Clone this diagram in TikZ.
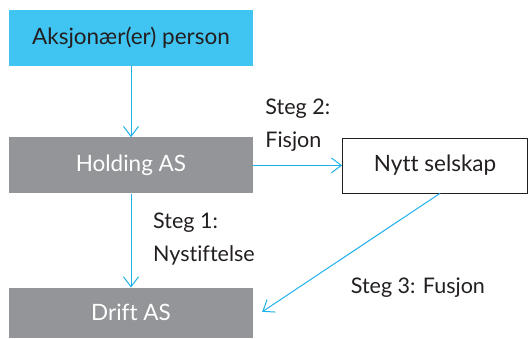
\documentclass[tikz,border=0pt]{standalone}
\usepackage{fontspec}
\setmainfont{Lato}[Ligatures=NoCommon]
\usetikzlibrary{arrows.meta, positioning}

\definecolor{boxcyan}{HTML}{40C4F1}
\definecolor{boxgray}{HTML}{939598}
\definecolor{linecyan}{HTML}{1FB0E8}
\definecolor{inkdark}{HTML}{231F20}

\begin{document}
\begin{tikzpicture}[
    x=1pt, y=1pt,
    font=\fontsize{22.5}{33}\selectfont,
    owner/.style={rectangle, minimum width=244pt, minimum height=56pt, text centered, fill=boxcyan, text=inkdark},
    company/.style={rectangle, minimum width=244pt, minimum height=56pt, text centered, fill=boxgray, text=white},
    newco/.style={rectangle, minimum width=185pt, minimum height=55pt, text centered, draw=inkdark, line width=0.8pt, fill=white, text=inkdark},
    steplabel/.style={inner sep=0pt, align=left, text=inkdark, font=\fontsize{21.5}{33}\selectfont},
    arrow/.style={linecyan, line width=1pt, -{Straight Barb[length=10pt, width=15pt, line width=1pt]}},
]
    \useasboundingbox (0,0) rectangle (528,-338);

    % shareholder and holding
    \node (owner) [owner] at (131,-38) {Aksjonær(er) person};
    \node (holding) [company, below=71pt of owner] {Holding AS};

    % new company after demerger
    \node (newco) [newco, right=89pt of holding] {Nytt selskap};

    % operating company
    \node (drift) [company, below=94pt of holding, minimum height=50pt] {Drift AS};

    % step labels
    \node (step2) [steplabel, above right=14pt and 12pt of holding.east] {Steg 2:\\Fisjon};
    \node (step1) [steplabel, below right=19pt and 22pt of holding.south] {Steg 1:\\Nystiftelse};
    \node (step3) [steplabel, below left=84pt and -50pt of newco.south] {Steg 3: Fusjon};

    \draw [arrow] (owner) -- (holding);
    \draw [arrow] (holding) -- (newco);
    \draw [arrow] (holding) -- (drift);
    \draw [arrow] ([xshift=5pt]newco.south) -- ([xshift=9pt,yshift=1pt]drift.east);

\end{tikzpicture}
\end{document}
